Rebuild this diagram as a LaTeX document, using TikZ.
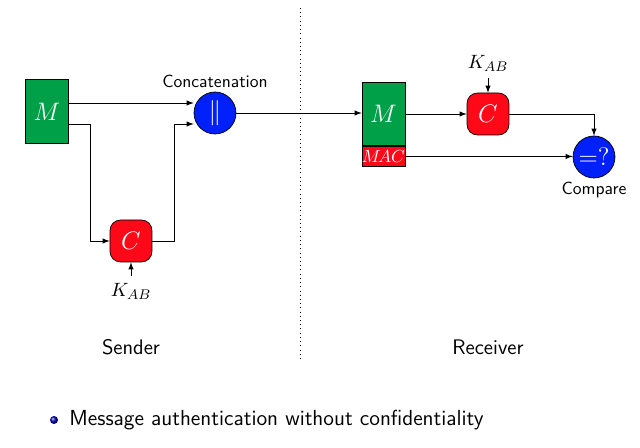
\documentclass[tikz,border=0pt,12pt]{standalone}
\usepackage{amsmath}
\usetikzlibrary{arrows,shapes,positioning}
\definecolor{macgreen}{RGB}{0,160,72}
\definecolor{macred}{RGB}{255,8,24}
\definecolor{macblue}{RGB}{0,32,250}

\begin{document}
\begin{tikzpicture}[
    x=0.02cm, y=-0.02cm,
    font=\sffamily,
    msgbox/.style={draw, rectangle, fill=macgreen, text=white, minimum width=0.86cm, minimum height=1.27cm, inner sep=0pt, font=\large},
    tagbox/.style={draw, rectangle, fill=macred, text=white, minimum width=0.86cm, minimum height=0.4cm, inner sep=0pt, font=\fontsize{9.8}{12}\selectfont},
    fnbox/.style={draw, rectangle, rounded corners=6pt, fill=macred, text=white, minimum size=0.84cm, inner sep=0pt, font=\large},
    opnode/.style={draw, circle, fill=macblue, text=white, minimum size=0.84cm, inner sep=0pt, font=\large},
    keylabel/.style={font=\small},
    arrow/.style={->, >=latex}
]
    \useasboundingbox (0,0) rectangle (640,448);

    % Sender side
    \node [msgbox] (msgS) at (47,111.5) {$M$};
    \node [fnbox] (cS) at (131,241) {$C$};
    \node [opnode] (cat) at (215,113) {$\|$};
    \node [above=-2pt of cat, font=\footnotesize\sffamily] (catlabel) {Concatenation};
    \node [keylabel] (kS) at (131,291) {$K_{AB}$};

    % Receiver side
    \node [msgbox] (msgR) at (383.5,114) {$M$};
    \node [tagbox, below=0pt of msgR] (macR) {$M\!AC$};
    \node [fnbox] (cR) at (488,114) {$C$};
    \node [keylabel] (kR) at (488,63) {$K_{AB}$};
    \node [opnode] (cmp) at (594,157) {$=?$};
    \node [below=-2pt of cmp, font=\footnotesize\sffamily] (cmplabel) {Compare};

    % Arrows sender
    \draw [arrow] (msgS.east |- 0,103) -- (cat.west |- 0,103);
    \draw [arrow] (msgS.east |- 0,124) -| (90,241) -- (cS.west);
    \draw [arrow] (cS.east) -| (174,124) -- (cat.west |- 0,124);
    \draw [arrow] (kS) -- (cS);

    % Arrows receiver
    \draw [arrow] (cat.east) -- (cat.east -| msgR.west);
    \draw [arrow] (msgR) -- (cR);
    \draw [arrow] (kR) -- (cR);
    \draw [arrow] (cR.east) -| (cmp.north);
    \draw [arrow] (macR.east) -- (macR.east -| cmp.west);

    % Separator and side labels
    \draw [dotted] (300,8) -- (300,362);
    \node (sender) at (131,347) {Sender};
    \node (receiver) at (488,347) {Receiver};

    % Bullet item
    \shade [ball color=blue!70!black] (54,420) circle (0.08cm);
    \node [anchor=west, font=\fontsize{12.4}{15}\sffamily] (item) at (62,420) {Message authentication without confidentiality};

\end{tikzpicture}
\end{document}
